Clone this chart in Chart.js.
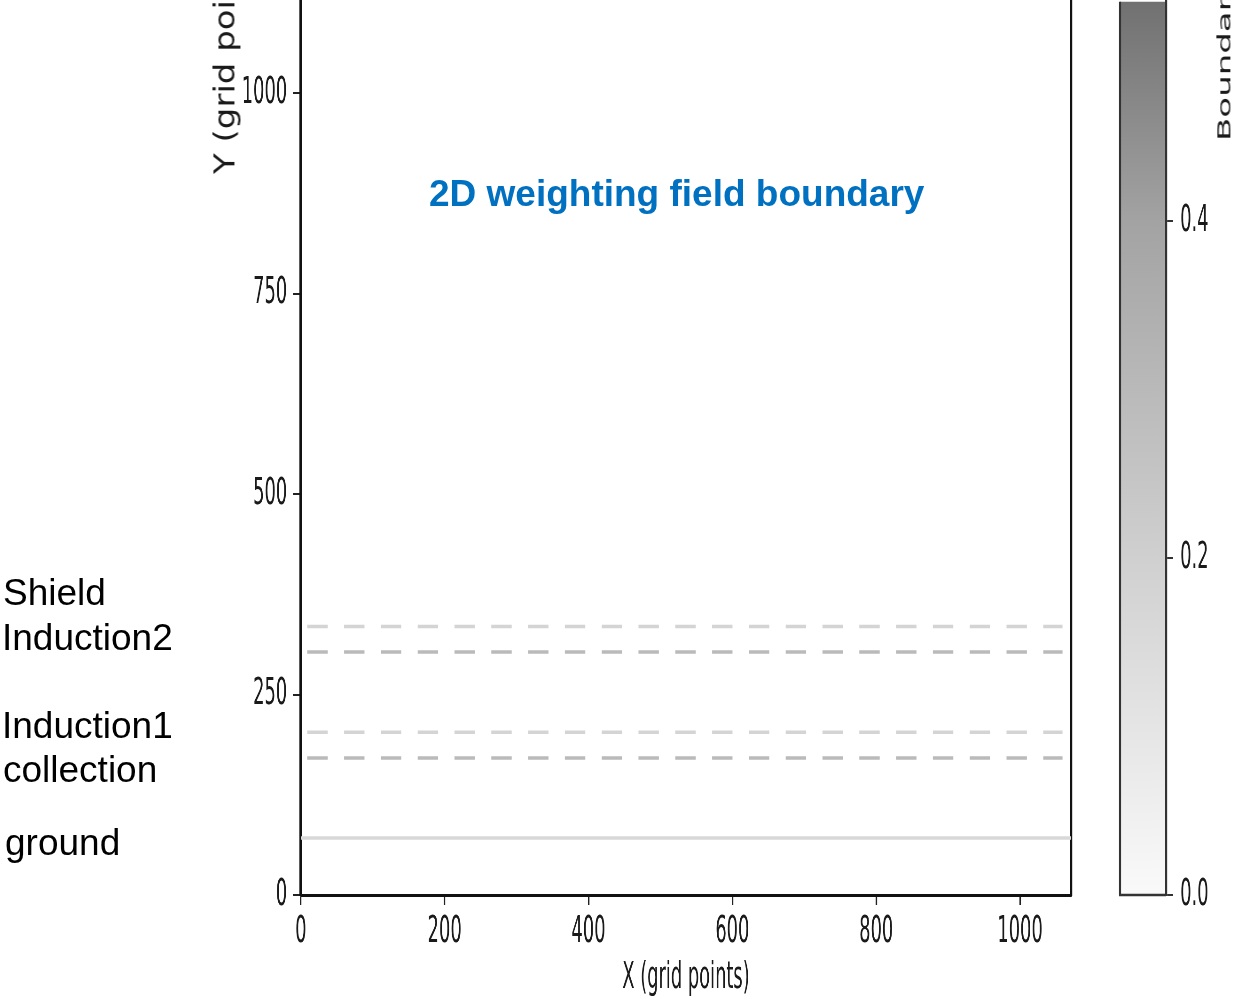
<!DOCTYPE html>
<html>
<head>
<meta charset="utf-8">
<script src="https://cdn.jsdelivr.net/npm/chart.js@4.4.1/dist/chart.umd.min.js"></script>
<style>
  html, body { margin: 0; padding: 0; background: #fff; overflow: hidden; }
  body { width: 1239px; height: 1001px; position: relative; }
  /* the plot is drawn wider, then squeezed, like the narrow text of the original */
  #plot { position: absolute; left: 0; top: 0; width: 2636px; height: 1001px; transform: scaleX(0.47); transform-origin: 0 0; }
  .note { position: absolute; font-family: "Liberation Sans", Arial, sans-serif; font-size: 37px; line-height: 37px; color: #000; white-space: nowrap; }
  #title { left: 429px; top: 175px; font-weight: bold; color: #0070c0; }
  .axis-label { position: absolute; font-family: "DejaVu Sans", sans-serif; font-size: 34px; line-height: 34px; color: #1a1a1a; white-space: nowrap; transform-origin: 0 0; }
</style>
</head>
<body>
<div id="plot"><canvas id="boundary-chart"></canvas></div>

<div class="axis-label" style="left:210px; top:174px; transform: scaleX(0.85) rotate(-90deg);">Y (grid points)</div>
<div class="axis-label" style="left:1215px; top:141px; transform: scaleX(0.54) rotate(-90deg);">Boundary value</div>

<div class="note" id="title">2D weighting field boundary</div>
<div class="note" style="left:3px; top:574px;">Shield</div>
<div class="note" style="left:2px; top:619px;">Induction2</div>
<div class="note" style="left:2px; top:707px;">Induction1</div>
<div class="note" style="left:3px; top:751px;">collection</div>
<div class="note" style="left:5px; top:824px;">ground</div>

<script>
// boundary lines (grid points)
const lineNames = ["Shield", "Induction2", "Induction1", "collection", "ground"];
const lineLevels = [335, 303, 203, 171, 71];
const lineStarts = [9, 9, 9, 9, 0];
const lineEnds = [1059, 1059, 1059, 1059, 1071];

// axes
const xTicks = [0, 200, 400, 600, 800, 1000];
const yTicks = [0, 250, 500, 750, 1000];
const xMax = 1071;
const yMax = 1114;

// colorbar
const cbTicks = [0, 0.2, 0.4];
const cbStops = [0, 0.2, 0.4, 0.53];
const cbColors = ["#fafafa", "#d0d0d0", "#a3a3a3", "#717171"];
const cbMax = 0.53;

const lineColors = ["#d4d4d4", "#bababa", "#d4d4d4", "#bababa", "#d8d8d8"];
const lineDashed = [true, true, true, true, false];

Chart.defaults.font.family = "'DejaVu Sans', sans-serif";
Chart.defaults.color = "#1a1a1a";

const colorbarPlugin = {
  id: "colorbar",
  beforeDraw(chart) {
    const cb = chart.scales.cb;
    const ctx = chart.ctx;
    const right = cb.left;
    const left = right - 98;
    const top = cb.getPixelForValue(cb.max);
    const bottom = cb.getPixelForValue(cb.min);
    const grad = ctx.createLinearGradient(0, bottom, 0, top);
    cbStops.forEach((v, i) => grad.addColorStop(v / cb.max, cbColors[i]));
    ctx.save();
    ctx.fillStyle = grad;
    ctx.fillRect(left, top, right - left, bottom - top);
    ctx.strokeStyle = "#333";
    ctx.lineWidth = 4.3;
    ctx.beginPath();
    ctx.moveTo(left, top);
    ctx.lineTo(left, bottom);
    ctx.stroke();
    ctx.lineWidth = 2.5;
    ctx.beginPath();
    ctx.moveTo(left - 2, bottom);
    ctx.lineTo(right, bottom);
    ctx.stroke();
    ctx.restore();
  },
};

const datasets = lineNames.map((name, i) => ({
  label: name,
  data: [
    { x: lineStarts[i], y: lineLevels[i] },
    { x: lineEnds[i], y: lineLevels[i] },
  ],
  showLine: true,
  borderColor: lineColors[i],
  borderWidth: 3.5,
  borderDash: lineDashed[i] ? [43.4, 34.9] : [],
  pointRadius: 0,
  fill: false,
}));

const ctx = document.getElementById("boundary-chart").getContext("2d");
new Chart(ctx, {
  type: "scatter",
  data: { datasets: datasets },
  plugins: [colorbarPlugin],
  options: {
    animation: { duration: 0 },
    responsive: true,
    maintainAspectRatio: false,
    devicePixelRatio: 1,
    layout: { padding: 0 },
    plugins: { legend: { display: false }, tooltip: { enabled: false } },
    scales: {
      x: {
        type: "linear",
        position: "bottom",
        min: 0,
        max: xMax,
        afterBuildTicks: (s) => { s.ticks = xTicks.map((v) => ({ value: v })); },
        afterFit: (s) => { s.height = 106; s.paddingLeft = 0; s.paddingRight = 0; },
        ticks: { callback: (v) => String(v), font: { size: 38 }, color: "#1a1a1a", padding: 4, maxRotation: 0, autoSkip: false },
        grid: { drawOnChartArea: false, drawTicks: true, tickLength: 10, lineWidth: 3.2, color: "#222" },
        border: { display: true, color: "#111", width: 3 },
        title: { display: true, text: "X (grid points)", font: { size: 38 }, color: "#1a1a1a", padding: { top: 0, bottom: 0 } },
      },
      y: {
        type: "linear",
        position: "left",
        min: 0,
        max: yMax,
        afterBuildTicks: (s) => { s.ticks = yTicks.map((v) => ({ value: v })); },
        afterFit: (s) => { s.width = 640; s.paddingTop = 0; s.paddingBottom = 0; },
        ticks: { callback: (v) => String(v), font: { size: 38 }, color: "#1a1a1a", padding: 12, autoSkip: false },
        grid: { drawOnChartArea: false, drawTicks: true, tickLength: 17, lineWidth: 2, color: "#222" },
        border: { display: true, color: "#111", width: 5.3 },
      },
      yr: {
        type: "linear",
        position: "right",
        weight: 0,
        min: 0,
        max: 1,
        afterFit: (s) => { s.width = 202; s.paddingTop = 0; s.paddingBottom = 0; },
        ticks: { display: false },
        grid: { display: false },
        border: { display: true, color: "#111", width: 5.3 },
      },
      cb: {
        type: "linear",
        position: "right",
        weight: 1,
        min: 0,
        max: cbMax,
        afterBuildTicks: (s) => { s.ticks = cbTicks.map((v) => ({ value: v })); },
        afterFit: (s) => { s.width = 155; s.paddingTop = 0; s.paddingBottom = 0; },
        ticks: { callback: (v) => v.toFixed(1), font: { size: 38 }, color: "#1a1a1a", padding: 15, autoSkip: false },
        grid: { drawOnChartArea: false, drawTicks: true, tickLength: 15, lineWidth: 2, color: "#333" },
        border: { display: true, color: "#333", width: 4.3 },
      },
    },
  },
});
</script>
</body>
</html>
